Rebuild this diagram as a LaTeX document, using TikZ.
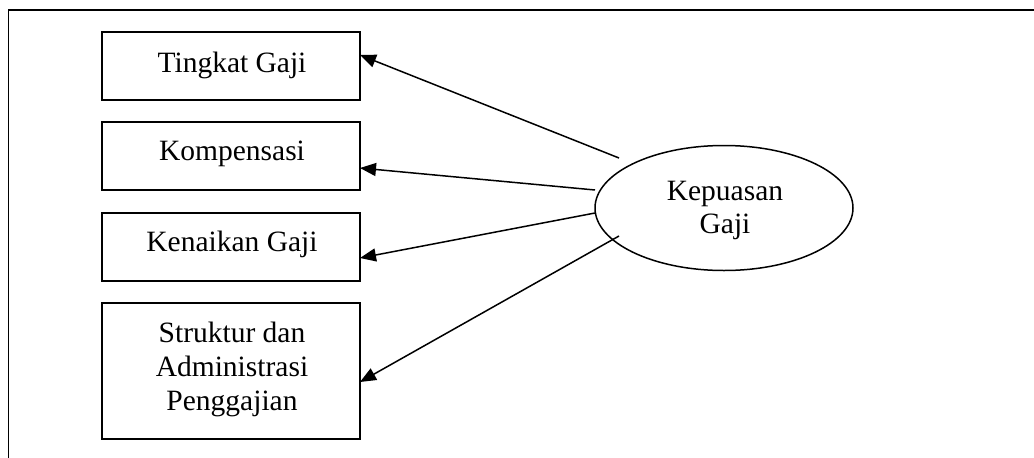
\documentclass[tikz,border=0pt]{standalone}
\usepackage{fontspec}
\setmainfont{Liberation Serif}
\usetikzlibrary{arrows.meta,shapes.geometric}
\begin{document}
\begin{tikzpicture}[x=1pt,y=-1pt,
  box/.style={draw,line width=1.5pt,minimum width=258pt,inner sep=0pt,outer sep=0pt},
  lbl/.style={anchor=base,inner sep=0pt,align=center,font=\fontsize{29.5}{34}\selectfont},
  conn/.style={line width=1.5pt,-{Triangle[length=16pt,width=13pt]}}]
\useasboundingbox (0,0) rectangle (1034,458);
\coordinate (f1) at (8.5,470);
\coordinate (f2) at (8.5,10);
\coordinate (f3) at (1045,10);
\draw[line width=1.5pt] (f1) -- (f2) -- (f3);
\node[box,minimum height=68pt] (b1) at (231,66) {};
\node[box,minimum height=68pt] (b2) at (231,156) {};
\node[box,minimum height=68pt] (b3) at (231,247) {};
\node[box,minimum height=136pt] (b4) at (231,371) {};
\node[lbl] (t1) at (232,72) {Tingkat Gaji};
\node[lbl] (t2) at (232,160) {Kompensasi};
\node[lbl] (t3) at (232,251) {Kenaikan Gaji};
\node[lbl,anchor=north] (t4) at (232,322) {Struktur dan\\Administrasi\\Penggajian};
\node[draw,ellipse,line width=1.5pt,minimum width=258pt,minimum height=125pt,inner sep=0pt] (e) at (724,208) {};
\node[lbl,anchor=north,font=\fontsize{29.5}{33}\selectfont] (te) at (725,180.5) {Kepuasan\\Gaji};
\coordinate (s1) at (619,158);
\coordinate (s2) at (595,190);
\coordinate (s3) at (595,213);
\coordinate (s4) at (619,236);
\draw[conn] (s1) -- ([yshift=11pt]b1.east);
\draw[conn] (s2) -- ([yshift=-12pt]b2.east);
\draw[conn] (s3) -- ([yshift=-11pt]b3.east);
\draw[conn] (s4) -- ([yshift=-11pt]b4.east);
\end{tikzpicture}
\end{document}
